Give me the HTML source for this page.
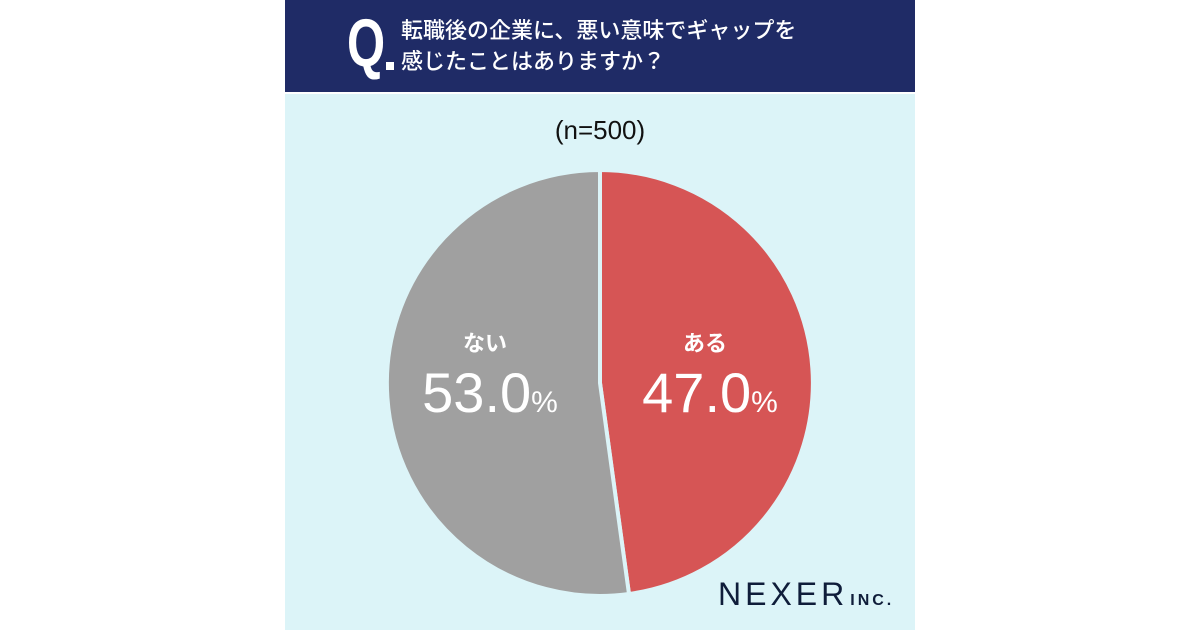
<!DOCTYPE html>
<html><head><meta charset="utf-8"><style>
body{margin:0;width:1200px;height:630px;background:#fff;position:relative;overflow:hidden;font-family:"Liberation Sans","Noto Sans CJK JP",sans-serif}
.panel{position:absolute;left:285px;top:0;width:630px;height:630px;background:#dcf4f8}
.head{position:absolute;left:0;top:0;width:630px;height:92px;background:#1f2b66;border-bottom:2px solid #fff}
.q{position:absolute;left:62px;top:8px;color:#fff;font-size:68px;font-weight:bold;line-height:70px;transform:scaleX(0.72);transform-origin:left top}
.dot{position:absolute;left:101px;top:62px;width:8px;height:8px;background:#fff}
.t{position:absolute;left:116px;top:14px;color:#fff;font-size:22px;line-height:31px;font-weight:500;font-family:"Noto Sans CJK JP",sans-serif}
.n{position:absolute;left:0;width:630px;top:115px;text-align:center;font-size:26px;color:#111}
.lab{position:absolute;color:#fff;font-family:"Noto Sans CJK JP",sans-serif;font-weight:bold;text-align:center}
.nexer{position:absolute;left:433px;top:576px;color:#0f1d3a;font-size:32px;letter-spacing:4px;font-weight:500}
.inc{font-size:16px;font-weight:bold;letter-spacing:3px;margin-left:2px}
</style></head><body>
<div class="panel">
<div class="head"><div class="q">Q</div><div class="dot"></div>
<div class="t">転職後の企業に、悪い意味でギャップを<br>感じたことはありますか？</div></div>
<div class="n">(n=500)</div>
<svg style="position:absolute;left:0;top:0" width="630" height="630">
<path d="M315 383 L315 170 A213 213 0 0 1 344 594 Z" fill="#d65555" stroke="#dcf4f8" stroke-width="4"/>
<path d="M315 383 L344 594 A213 213 0 1 1 315 170 Z" fill="#a0a0a0" stroke="#dcf4f8" stroke-width="4"/>
</svg>
<div class="lab" style="left:140px;top:326px;width:120px;font-size:22px">ない</div>
<div class="lab" style="left:120px;top:360px;width:170px;font-size:56px;font-family:'Liberation Sans',sans-serif;font-weight:500">53.0<span style="font-size:30px">%</span></div>
<div class="lab" style="left:360px;top:326px;width:120px;font-size:22px">ある</div>
<div class="lab" style="left:340px;top:360px;width:170px;font-size:56px;font-family:'Liberation Sans',sans-serif;font-weight:500">47.0<span style="font-size:30px">%</span></div>
<div class="nexer">NEXER<span class="inc">INC.</span></div>
</div>
</body></html>
